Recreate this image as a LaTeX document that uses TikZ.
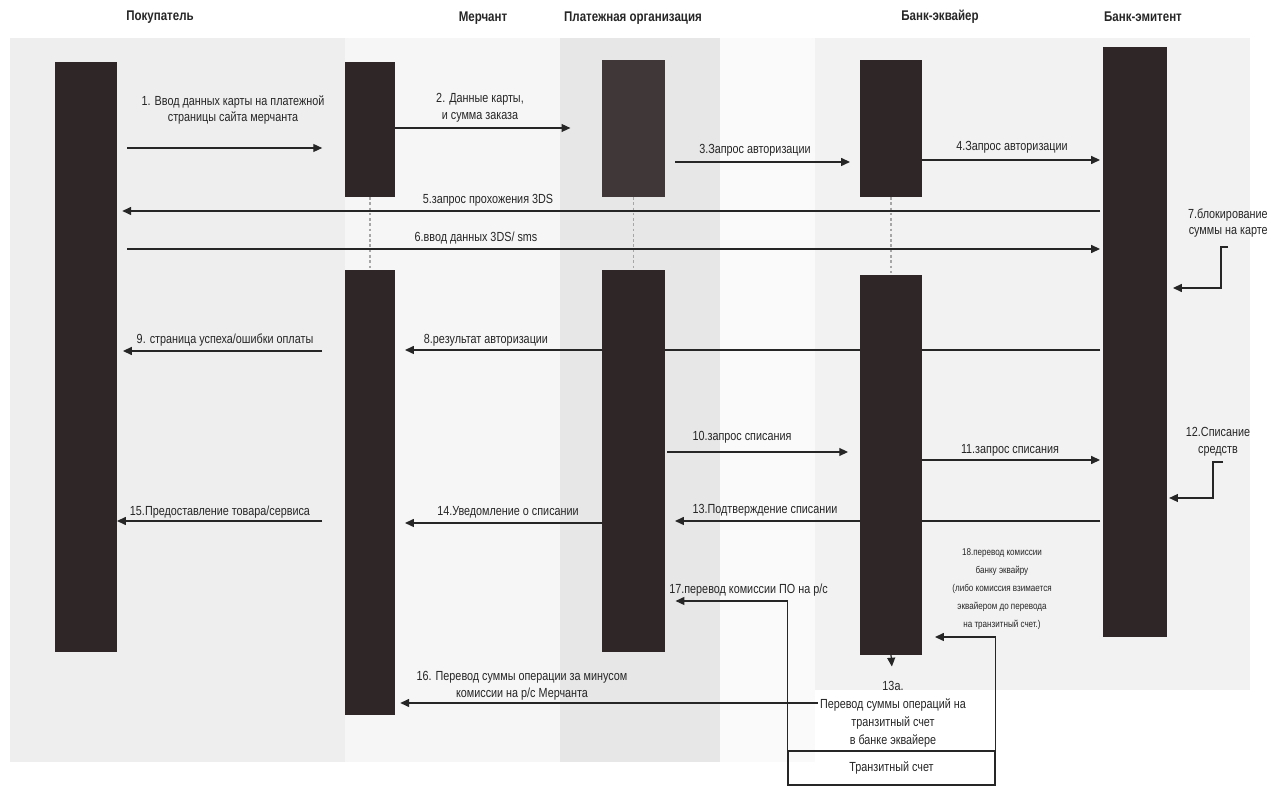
\documentclass[tikz,border=0pt]{standalone}
\usepackage{fontspec}
\setmainfont{Liberation Sans}[FakeStretch=0.82]
\usetikzlibrary{arrows.meta}
\definecolor{barc}{HTML}{2F2627}
\definecolor{barg}{HTML}{403838}
\definecolor{inkc}{HTML}{262626}
\begin{document}
\begin{tikzpicture}[x=0.02cm,y=-0.02cm,
  bar/.style={fill=barc,draw=none,inner sep=0pt,outer sep=0pt},
  msg/.style={draw=inkc,line width=0.7pt,-{Triangle[length=5pt,width=4.5pt]}},
  life/.style={draw=gray!70,line width=0.6pt,dash pattern=on 1.5pt off 1.5pt},
  lbl/.style={font=\fontsize{7.5}{9.5}\selectfont,align=center,inner sep=0pt,text=inkc},
  small/.style={font=\fontsize{5.6}{10.3}\selectfont,align=center,inner sep=0pt,text=inkc},
  hdr/.style={font=\bfseries\fontsize{8}{10}\selectfont,inner sep=0pt,text=inkc},
  boxc/.style={draw=inkc,line width=0.7pt,inner sep=0pt,minimum width=4.14cm,minimum height=0.68cm,font=\fontsize{7.5}{9}\selectfont,text=inkc}]
\useasboundingbox (0,0) rectangle (1276,786);
% scanned background bands
\fill[gray!13] (10,38) rectangle (345,762);
\fill[gray!7] (345,38) rectangle (560,762);
\fill[gray!19] (560,38) rectangle (720,762);
\fill[gray!4] (720,38) rectangle (815,762);
\fill[gray!10] (815,38) rectangle (1250,690);
% headers
\node[hdr] (h1) at (160,17) {Покупатель};
\node[hdr] (h2) at (483,18) {Мерчант};
\node[hdr] (h3) at (633,18) {Платежная организация};
\node[hdr] (h4) at (940,17) {Банк-эквайер};
\node[hdr] (h5) at (1143,17) {Банк-эмитент};
% bar nodes (positions only, drawn later on top of arrows)
\path
  (86,357)    node[bar,minimum width=1.24cm,minimum height=11.8cm] (buyer) {}
  (370,129.5) node[bar,minimum width=1.0cm,minimum height=2.7cm] (merchA) {}
  (370,492.5) node[bar,minimum width=1.0cm,minimum height=8.9cm] (merchB) {}
  (633.5,128.5) node[bar,fill=barg,minimum width=1.26cm,minimum height=2.74cm] (poA) {}
  (633.5,461) node[bar,minimum width=1.26cm,minimum height=7.64cm] (poB) {}
  (891,128.5) node[bar,minimum width=1.24cm,minimum height=2.74cm] (acqA) {}
  (891,465)   node[bar,minimum width=1.24cm,minimum height=7.6cm] (acqB) {}
  (1135,342)  node[bar,minimum width=1.28cm,minimum height=11.8cm] (iss) {};
% lifeline gaps
\draw[life] (merchA.south) -- (merchB.north);
\draw[life] (poA.south) -- (poB.north);
\draw[life] (acqA.south) -- (acqB.north);
% transit account box
\node[boxc] (box) at (891.5,768) {Транзитный счет};
\node[lbl,font=\fontsize{7.5}{10.3}\selectfont] (t13a) at (893,714) {13а.\\Перевод суммы операций на\\транзитный счет\\в банке эквайере};
% messages
\draw[msg,shorten <=5.7pt,shorten >=13pt] (buyer.east |- 0,148) -- (merchA.west |- 0,148);
\node[lbl] (l1) at (233,110) {1. Ввод данных карты на платежной\\страницы сайта мерчанта};
\draw[msg,shorten >=18pt] (merchA.east |- 0,128) -- (poA.west |- 0,128);
\node[lbl] (l2) at (480,108) {2. Данные карты,\\и сумма заказа};
\draw[msg,shorten <=5.7pt,shorten >=5.7pt] (poA.east |- 0,162) -- (acqA.west |- 0,162);
\node[lbl] (l3) at (755,150) {3.Запрос авторизации};
\draw[msg,shorten >=1.7pt] (acqA.east |- 0,160) -- (iss.west |- 0,160);
\node[lbl] (l4) at (1012,147) {4.Запрос авторизации};
\draw[msg,shorten <=1.7pt,shorten >=3pt] (iss.west |- 0,211) -- (buyer.east |- 0,211);
\node[lbl] (l5) at (488,200) {5.запрос прохожения 3DS};
\draw[msg,shorten <=5.7pt,shorten >=1.7pt] (buyer.east |- 0,249) -- (iss.west |- 0,249);
\node[lbl] (l6) at (476,238) {6.ввод данных 3DS/ sms};
\node[lbl,align=right,anchor=east] (l7) at (1268,223) {7.блокирование\\суммы на карте};
\coordinate (c7) at (1228,247);
\draw[msg,shorten >=3.4pt] (c7) -- (1221,247) -- (1221,288) -- (iss.east |- 0,288);
\draw[msg,shorten <=1.7pt,shorten >=5.7pt] (iss.west |- 0,350) -- (merchB.east |- 0,350);
\node[lbl] (l8) at (486,340) {8.результат авторизации};
\draw[msg,shorten <=13pt,shorten >=3.4pt] (merchB.west |- 0,351) -- (buyer.east |- 0,351);
\node[lbl] (l9) at (225,340) {9. страница успеха/ошибки оплаты};
\draw[msg,shorten <=1.2pt,shorten >=6.8pt] (poB.east |- 0,452) -- (acqB.west |- 0,452);
\node[lbl] (l10) at (742,437) {10.запрос списания};
\draw[msg,shorten >=1.7pt] (acqB.east |- 0,460) -- (iss.west |- 0,460);
\node[lbl] (l11) at (1010,450) {11.запрос списания};
\node[lbl] (l12) at (1218,442) {12.Списание\\средств};
\coordinate (c12) at (1223,462);
\draw[msg,shorten >=1.2pt] (c12) -- (1213,462) -- (1213,498) -- (iss.east |- 0,498);
\draw[msg,shorten <=1.7pt,shorten >=5.7pt] (iss.west |- 0,521) -- (poB.east |- 0,521);
\node[lbl] (l13) at (765,510) {13.Подтверждение списании};
\draw[msg,shorten >=5.7pt] (poB.west |- 0,523) -- (merchB.east |- 0,523);
\node[lbl] (l14) at (508,512) {14.Уведомление о списании};
\draw[msg,shorten <=13pt] (merchB.west |- 0,521) -- (buyer.east |- 0,521);
\node[lbl] (l15) at (220,512) {15.Предоставление товара/сервиса};
\draw[msg,shorten <=1pt,shorten >=3pt] (t13a.west |- 0,703) -- (merchB.east |- 0,703);
\node[lbl] (l16) at (522,686) {16. Перевод суммы операции за минусом\\комиссии на р/с Мерчанта};
\draw[msg,shorten >=6pt] (box.north west) -- (box.north west |- 0,601) -- (poB.east |- 0,601);
\node[lbl,anchor=west] (l17) at (669,590) {17.перевод комиссии ПО на р/с};
\draw[msg,shorten >=7.4pt] (box.north east) -- (box.north east |- 0,637) -- (acqB.east |- 0,637);
\node[small] (l18) at (1002,589) {18.перевод комисcии\\банку эквайру\\(либо комиссия взимается\\эквайером до перевода\\на транзитный счет.)};
\draw[msg,shorten >=8pt] (acqB.south) -- (t13a.north);
% bars on top
\foreach \b in {buyer,merchA,merchB,poB,acqA,acqB,iss}
  \fill[barc] (\b.south west) rectangle (\b.north east);
\fill[barg] (poA.south west) rectangle (poA.north east);
\end{tikzpicture}
\end{document}
